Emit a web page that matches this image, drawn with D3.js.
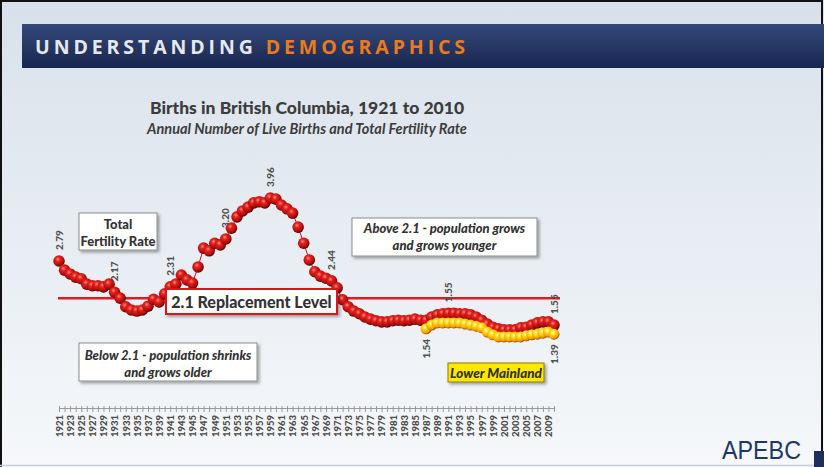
<!DOCTYPE html>
<html>
<head>
<meta charset="utf-8">
<title>Births in British Columbia, 1921 to 2010</title>
<script src="https://cdn.jsdelivr.net/npm/d3@7"></script>
<style>
  body { margin: 0; background: #fff; }
  svg { display: block; font-family: Lato, "Open Sans", sans-serif; }
</style>
</head>
<body>
<div id="container"></div>
<script>
// Total fertility rate, British Columbia, one value per year from 1921
const bcFirstYear = 1921
const bcTfr = [
  2.79, 2.62, 2.55, 2.49, 2.46, 2.36, 2.33, 2.33, 2.31, 2.36,
  2.21, 2.10, 1.94, 1.88, 1.86, 1.88, 1.95, 2.08, 2.03, 2.18,
  2.31, 2.36, 2.53, 2.44, 2.38, 2.68, 3.03, 2.98, 3.12, 3.09,
  3.20, 3.40, 3.61, 3.72, 3.79, 3.87, 3.89, 3.87, 3.96, 3.94,
  3.83, 3.76, 3.68, 3.42, 3.12, 2.81, 2.59, 2.51, 2.47, 2.42,
  2.29, 2.07, 1.94, 1.86, 1.81, 1.75, 1.71, 1.68, 1.66, 1.66,
  1.68, 1.69, 1.68, 1.69, 1.71, 1.69, 1.69, 1.75, 1.79, 1.81,
  1.82, 1.82, 1.81, 1.81, 1.79, 1.75, 1.69, 1.62, 1.56, 1.53,
  1.51, 1.51, 1.51, 1.55, 1.56, 1.60, 1.64, 1.66, 1.66, 1.60
]

// Lower Mainland, from 1987
const lmFirstYear = 1987
const lmTfr = [
  1.53, 1.60, 1.64, 1.64, 1.64, 1.64, 1.64, 1.62, 1.60, 1.58,
  1.55, 1.47, 1.42, 1.38, 1.38, 1.38, 1.38, 1.38, 1.40, 1.42,
  1.43, 1.45, 1.47, 1.43
]

const replacementRate = 2.1

// value callouts: year, series, text, side of the point
const calloutYears = [1921, 1931, 1941, 1951, 1959, 1970, 1991, 2010, 1987, 2010]
const calloutSeries = ["bc", "bc", "bc", "bc", "bc", "bc", "bc", "bc", "lm", "lm"]
const calloutTexts = ["2.79", "2.17", "2.31", "3.20", "3.96", "2.44", "1.55", "1.55", "1.54", "1.39"]
const calloutSides = ["above", "above", "above", "above", "above", "above", "above", "above", "below", "below"]

const bcData = bcTfr.map((v, i) => ({ year: bcFirstYear + i, value: v }))
const lmData = lmTfr.map((v, i) => ({ year: lmFirstYear + i, value: v }))
const allYears = bcData.map(d => d.year)

const w = 824
const h = 467

const svg = d3.select("#container")
    .append("svg")
    .attr("width", w)
    .attr("height", h)

const defs = svg.append("defs")

const bg = defs.append("linearGradient").attr("id", "bg")
    .attr("x1", 0).attr("y1", 0).attr("x2", 0).attr("y2", 1)
bg.append("stop").attr("offset", 0).attr("stop-color", "#d8e1eb")
bg.append("stop").attr("offset", 1).attr("stop-color", "#f6f8fa")

const head = defs.append("linearGradient").attr("id", "head")
    .attr("x1", 0).attr("y1", 0).attr("x2", 0).attr("y2", 1)
head.append("stop").attr("offset", 0).attr("stop-color", "#35497b")
head.append("stop").attr("offset", 1).attr("stop-color", "#17264d")

const redBall = defs.append("radialGradient").attr("id", "redBall")
    .attr("cx", "40%").attr("cy", "35%").attr("r", "65%")
redBall.append("stop").attr("offset", 0).attr("stop-color", "#ff8f85")
redBall.append("stop").attr("offset", 0.3).attr("stop-color", "#e8221d")
redBall.append("stop").attr("offset", 0.8).attr("stop-color", "#a50c0c")
redBall.append("stop").attr("offset", 1).attr("stop-color", "#4a0000")

const yellowBall = defs.append("radialGradient").attr("id", "yellowBall")
    .attr("cx", "40%").attr("cy", "35%").attr("r", "65%")
yellowBall.append("stop").attr("offset", 0).attr("stop-color", "#fffbd0")
yellowBall.append("stop").attr("offset", 0.3).attr("stop-color", "#ffe01a")
yellowBall.append("stop").attr("offset", 0.8).attr("stop-color", "#f09a00")
yellowBall.append("stop").attr("offset", 1).attr("stop-color", "#9a4a00")

const shadow = defs.append("filter").attr("id", "shadow")
    .attr("x", "-10%").attr("y", "-10%").attr("width", "130%").attr("height", "140%")
shadow.append("feDropShadow")
    .attr("dx", 2).attr("dy", 2).attr("stdDeviation", 1.5)
    .attr("flood-color", "#000").attr("flood-opacity", 0.35)

// Background and frame
svg.append("rect").attr("width", w).attr("height", h).attr("fill", "url(#bg)")
svg.append("path")
    .attr("d", `M1,${h} V1 H${w - 2} V${h}`)
    .attr("fill", "none").attr("stroke", "#111").attr("stroke-width", 2)
svg.append("line")
    .attr("x1", 0).attr("x2", w).attr("y1", h - 1.5).attr("y2", h - 1.5)
    .attr("stroke", "#c9ced6").attr("stroke-width", 1.5)

// Header bar
svg.append("rect")
    .attr("x", 22).attr("y", 24).attr("width", w - 22).attr("height", 44)
    .attr("fill", "url(#head)")

const headText = svg.append("text")
    .attr("x", 35).attr("y", 54)
    .attr("font-family", "'Open Sans', sans-serif")
    .attr("font-weight", "bold")
    .attr("font-size", 19.5)
    .attr("letter-spacing", 3.9)
headText.append("tspan").attr("fill", "#e6e8ec").text("UNDERSTANDING ")
headText.append("tspan").attr("fill", "#ec7a1c").text("DEMOGRAPHICS")

// Titles
svg.append("text")
    .attr("x", 307).attr("y", 114)
    .attr("text-anchor", "middle")
    .attr("font-weight", "900")
    .attr("font-size", 17.5)
    .attr("fill", "#3c3c3c")
    .text("Births in British Columbia, 1921 to 2010")

svg.append("text")
    .attr("x", 307).attr("y", 134)
    .attr("text-anchor", "middle")
    .attr("font-weight", "bold")
    .attr("font-style", "italic")
    .attr("font-size", 14.5)
    .attr("fill", "#3c3c3c")
    .text("Annual Number of Live Births and Total Fertility Rate")

// Scales
const xScale = d3.scaleLinear()
    .domain([1921, 2010])
    .range([59, 554])

const yScale = d3.scaleLinear()
    .domain([1.2, 4.2])
    .range([346.6, 185.1])

// X axis with every year ticked, odd years labelled
const xAxis = d3.axisBottom(xScale)
    .tickValues(allYears)
    .tickSize(4)
    .tickSizeOuter(0)
    .tickFormat(d => d % 2 === 1 ? d : "")

const axisG = svg.append("g")
    .attr("transform", "translate(0,408)")
    .call(xAxis)
axisG.select(".domain").attr("stroke", "#9a9a9a")
axisG.selectAll(".tick line").attr("stroke", "#9a9a9a").attr("y1", -2)
axisG.selectAll(".tick text")
    .attr("transform", "rotate(-90)")
    .attr("x", -7).attr("y", 0).attr("dy", "0.35em")
    .style("text-anchor", "end")
    .attr("font-family", "Lato, sans-serif")
    .attr("font-weight", "900")
    .attr("font-size", 9.5)
    .attr("fill", "#4a4a4a")

// Replacement level line
svg.append("line")
    .attr("x1", xScale(1921) - 1).attr("x2", xScale(2010) + 6)
    .attr("y1", yScale(replacementRate)).attr("y2", yScale(replacementRate))
    .attr("stroke", "#e01b22").attr("stroke-width", 2.5)

// Value callouts
const seriesLookup = { bc: bcData, lm: lmData }
calloutYears.forEach((yr, i) => {
    const pt = seriesLookup[calloutSeries[i]].find(d => d.year === yr)
    const px = xScale(pt.year) + 3.5
    const above = calloutSides[i] === "above"
    const py = yScale(pt.value) + (above ? -11 : 10)
    svg.append("text")
        .attr("transform", `translate(${px},${py}) rotate(-90)`)
        .attr("text-anchor", above ? "start" : "end")
        .attr("font-weight", "900")
        .attr("font-size", 10)
        .attr("fill", "#505050")
        .text(calloutTexts[i])
})

// Series
const line = d3.line().x(d => xScale(d.year)).y(d => yScale(d.value))

svg.append("path")
    .datum(bcData)
    .attr("d", line)
    .attr("fill", "none")
    .attr("stroke", "#c8141a")
    .attr("stroke-width", 1)

svg.append("g")
    .selectAll("circle")
    .data(bcData)
    .enter()
    .append("circle")
    .attr("cx", d => xScale(d.year))
    .attr("cy", d => yScale(d.value))
    .attr("r", 5.8)
    .attr("fill", "url(#redBall)")

svg.append("g")
    .selectAll("circle")
    .data(lmData)
    .enter()
    .append("circle")
    .attr("cx", d => xScale(d.year))
    .attr("cy", d => yScale(d.value))
    .attr("r", 5.5)
    .attr("fill", "url(#yellowBall)")

// Text boxes
const drawBox = (x, y, bw, bh, lines, opts) => {
    const g = svg.append("g")
    g.append("rect")
        .attr("x", x).attr("y", y).attr("width", bw).attr("height", bh)
        .attr("fill", opts.fill || "#fff")
        .attr("stroke", opts.stroke || "#8c8c8c")
        .attr("stroke-width", opts.strokeWidth || 1)
        .attr("filter", "url(#shadow)")
    lines.forEach((t, i) => {
        g.append("text")
            .attr("x", x + bw / 2)
            .attr("y", y + opts.first + i * opts.step)
            .attr("text-anchor", "middle")
            .attr("font-weight", "900")
            .attr("font-style", opts.italic ? "italic" : "normal")
            .attr("font-size", opts.size)
            .attr("fill", "#333")
            .text(t)
    })
}

drawBox(79, 213, 78, 37, ["Total", "Fertility Rate"], { first: 15.5, step: 17, size: 13 })
drawBox(166, 289, 171, 25, ["2.1 Replacement Level"], { first: 18.5, step: 0, size: 16, stroke: "#d8141b", strokeWidth: 2 })
drawBox(352, 218, 185, 38, ["Above 2.1 - population grows", "and grows younger"], { first: 15, step: 17, size: 13, italic: true })
drawBox(79, 343, 178, 38, ["Below 2.1 - population shrinks", "and grows older"], { first: 16.5, step: 17, size: 13, italic: true })
drawBox(448, 363, 96, 19, ["Lower Mainland"], { first: 14.5, step: 0, size: 13.5, italic: true, fill: "#ffe800", stroke: "#8a7a00" })

// APEBC mark
svg.append("text")
    .attr("x", 722).attr("y", 459)
    .attr("font-family", "'Liberation Sans', Arial, sans-serif")
    .attr("font-size", 26)
    .attr("textLength", 79)
    .attr("lengthAdjust", "spacingAndGlyphs")
    .attr("fill", "#1e3768")
    .text("APEBC")

svg.append("rect")
    .attr("x", 814).attr("y", 451).attr("width", 10).attr("height", 16)
    .attr("fill", "#1e2f5e")
</script>
</body>
</html>
